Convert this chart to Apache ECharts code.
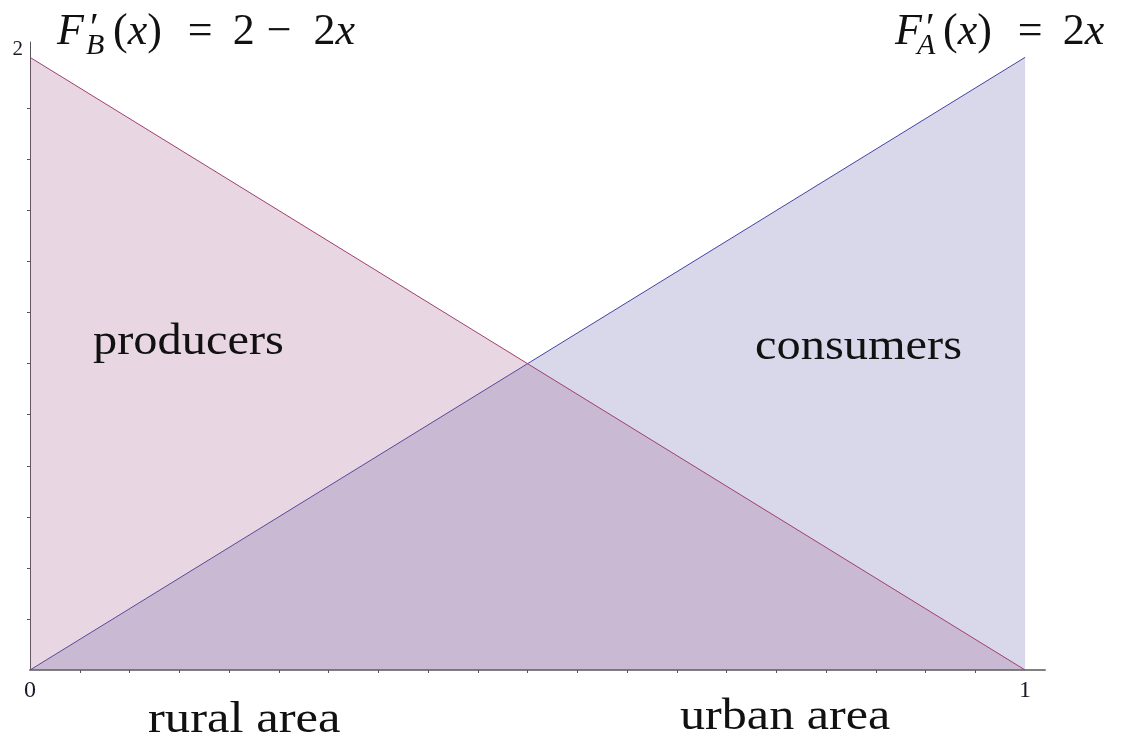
<!DOCTYPE html>
<html>
<head>
<meta charset="utf-8">
<script src="https://cdn.jsdelivr.net/npm/echarts@6/dist/echarts.min.js"></script>
<style>
html,body{margin:0;padding:0;background:#fff;}
#c{width:1126px;height:742px;}
</style>
</head>
<body>
<div id="c"></div>
<script>
// Data
var xValues = [0, 1];
var demandB = [2, 0];   // F'_B(x) = 2 - 2x
var demandA = [0, 2];   // F'_A(x) = 2x
var xTickLabels = ['0', '1'];
var yTickLabels = ['2'];
var regionLabels = ['producers', 'consumers'];
var axisNames = ['rural area', 'urban area'];

var serif = '"Liberation Serif", "DejaVu Serif", serif';
var ink = '#111';

function pairs(xs, ys) { return xs.map(function (x, i) { return [x, ys[i]]; }); }

var richMath = {
  i: { fontFamily: serif, fontStyle: 'italic', fontSize: 44, fill: ink },
  n: { fontFamily: serif, fontSize: 44, fill: ink },
  eq: { fontFamily: serif, fontSize: 44, fill: ink, padding: [0, 20, 0, 26] },
  mi: { fontFamily: serif, fontSize: 44, fill: ink, padding: [0, 22, 0, 12] }
};

function formula(fx, sub, subDx, primeDx, restDx, rest) {
  return [
    { type: 'text', x: fx, y: 10, z: 10, style: { text: 'F', font: 'italic 44px ' + serif, fill: ink, verticalAlign: 'top' } },
    { type: 'text', x: fx + primeDx, y: 9, z: 10, style: { text: '′', font: '40px ' + serif, fill: ink, verticalAlign: 'top' } },
    { type: 'text', x: fx + subDx, y: 31, z: 10, style: { text: sub, font: 'italic 30px ' + serif, fill: ink, verticalAlign: 'top' } },
    { type: 'text', x: fx + restDx, y: 10, z: 10, style: { text: rest, rich: richMath, verticalAlign: 'top' } }
  ];
}

var chart = echarts.init(document.getElementById('c'));
chart.setOption({
  animation: false,
  backgroundColor: '#fff',
  grid: { left: 30, right: 81, top: 42, bottom: 72, containLabel: false },
  xAxis: {
    type: 'value', min: 0, max: 1.02, interval: 1,
    axisLine: { show: true, lineStyle: { color: '#808080', width: 2 } },
    axisTick: { show: false },
    minorTick: { show: true, splitNumber: 20, length: 3, lineStyle: { color: '#555', width: 1 } },
    splitLine: { show: false },
    minorSplitLine: { show: false },
    axisLabel: {
      showMaxLabel: false, margin: 9,
      fontFamily: serif, fontSize: 24, color: '#1a1a2a',
      formatter: function (v) { return xTickLabels.indexOf(String(v)) >= 0 ? String(v) : ''; }
    }
  },
  yAxis: {
    type: 'value', min: 0, max: 2.05, interval: 2,
    axisLine: { show: true, lineStyle: { color: '#555', width: 1 } },
    axisTick: { show: false },
    minorTick: { show: true, splitNumber: 12, length: 3, lineStyle: { color: '#555', width: 1 } },
    splitLine: { show: false },
    axisLabel: {
      showMaxLabel: false, margin: 7, verticalAlign: 'bottom', lineHeight: 16,
      fontFamily: serif, fontSize: 21, color: '#1a1a2a',
      formatter: function (v) { return yTickLabels.indexOf(String(v)) >= 0 ? String(v) : ''; }
    }
  },
  series: [
    {
      type: 'line', data: pairs(xValues, demandA), symbol: 'none', z: 2,
      lineStyle: { color: '#4444a4', width: 1 },
      areaStyle: { color: 'rgb(92,92,168)', opacity: 0.24, origin: 'start' }
    },
    {
      type: 'line', data: pairs(xValues, demandB), symbol: 'none', z: 3,
      lineStyle: { color: '#a0406e', width: 1 },
      areaStyle: { color: 'rgb(159,88,134)', opacity: 0.24, origin: 'start' }
    }
  ],
  graphic: [].concat(
    formula(57, 'B', 29, 33, 56, '{n|(}{i|x}{n|)}{eq|=}{n|2}{mi|−}{n|2}{i|x}'),
    formula(895, 'A', 22, 31, 48, '{n|(}{i|x}{n|)}{eq|=}{n|2}{i|x}'),
    [
      { type: 'text', x: 93, y: 320, scaleX: 1.1, z: 10, style: { text: regionLabels[0], font: '44px ' + serif, fill: ink, verticalAlign: 'top' } },
      { type: 'text', x: 755, y: 325, scaleX: 1.1, z: 10, style: { text: regionLabels[1], font: '44px ' + serif, fill: ink, verticalAlign: 'top' } },
      { type: 'text', x: 148, y: 698, scaleX: 1.15, z: 10, style: { text: axisNames[0], font: '44px ' + serif, fill: ink, verticalAlign: 'top' } },
      { type: 'text', x: 680, y: 695, scaleX: 1.14, z: 10, style: { text: axisNames[1], font: '44px ' + serif, fill: ink, verticalAlign: 'top' } }
    ]
  )
});
</script>
</body>
</html>
